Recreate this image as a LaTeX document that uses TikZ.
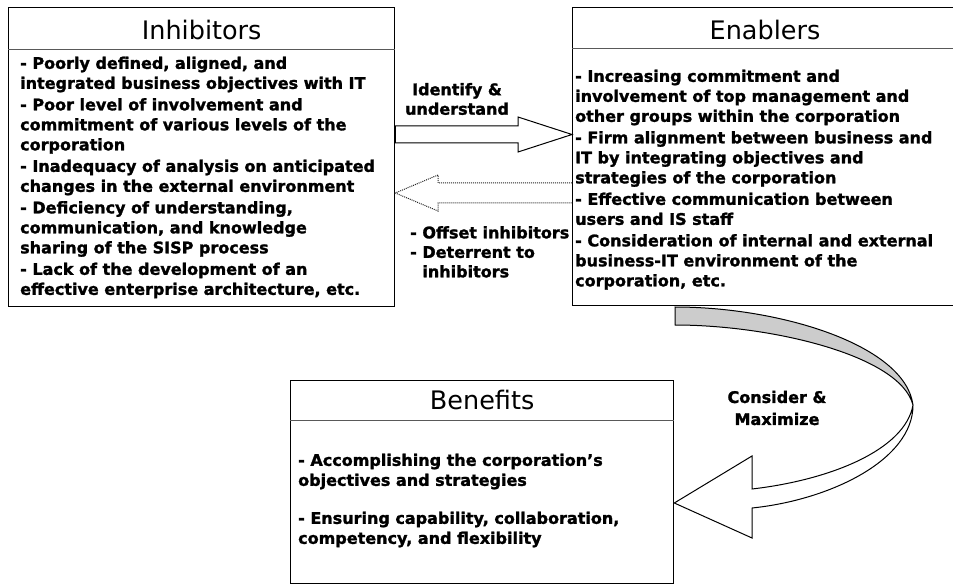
\documentclass[tikz,border=0pt]{standalone}
\usepackage{fontspec}
\setmainfont{DejaVu Sans}[BoldFeatures={FakeBold=1.5}]
\usepackage{tikz}
\usetikzlibrary{calc,positioning}

\begin{document}
\begin{tikzpicture}[
    x=1pt, y=-1pt,                       % pixel-like units, y downwards
    box/.style={
        draw,
        rectangle,
        line width=1.3pt,
        inner sep=0pt,
        anchor=north west
    },
    divider/.style={line width=0.6pt, black!65},
    head/.style={font=\fontsize{25.5}{30}\selectfont},
    item/.style={
        font=\bfseries\fontsize{16}{20}\selectfont,
        align=left,
        inner sep=0pt,
        anchor=north west
    },
    note/.style={font=\bfseries\fontsize{16}{19.5}\selectfont, inner sep=0pt},
    blockarrow/.style={draw, line width=1pt, fill=white},
    ribbon/.style={draw, line width=1pt}
]
\useasboundingbox (0,0) rectangle (953,585);

% the three boxes
\node[box, minimum width=386pt, minimum height=299pt] (inh) at (8,7) {};
\node[box, minimum width=383pt, minimum height=298pt] (ena) at (572,7) {};
\node[box, minimum width=383pt, minimum height=203pt] (ben) at (290,380) {};

\node[head] (inhtitle) at ([yshift=-22.5pt]inh.north) {Inhibitors};
\node[head] (enatitle) at (765,29.5) {Enablers};
\node[head] (bentitle) at ([yshift=-20pt]ben.north) {Benefits};

\draw[divider] ([yshift=-42pt]inh.north west) -- ([yshift=-42pt]inh.north east);
\draw[divider] ([yshift=-41pt]ena.north west) -- ([yshift=-41pt]ena.north east);
\draw[divider] ([yshift=-40pt]ben.north west) -- ([yshift=-40pt]ben.north east);

\node[item] (inhtext) at (20,56.5) {- Poorly defined, aligned, and\\
    integrated business objectives with IT\\[1.5pt]
    - Poor level of involvement and\\
    commitment of various levels of the\\
    corporation\\[1.5pt]
    - Inadequacy of analysis on anticipated\\
    changes in the external environment\\[1.5pt]
    - Deficiency of understanding,\\
    communication, and knowledge\\
    sharing of the SISP process\\[1.5pt]
    - Lack of the development of an\\
    effective enterprise architecture, etc.};

\node[item] (enatext) at (575,69.5) {- Increasing commitment and\\
    involvement of top management and\\
    other groups within the corporation\\[1.5pt]
    - Firm alignment between business and\\
    IT by integrating objectives and\\
    strategies of the corporation\\[1.5pt]
    - Effective communication between\\
    users and IS staff\\[1.5pt]
    - Consideration of internal and external\\
    business-IT environment of the\\
    corporation, etc.};

\node[item] (bentext) at (298,453.5) {- Accomplishing the corporation’s\\
    objectives and strategies\\[18pt]
    - Ensuring capability, collaboration,\\
    competency, and flexibility};

% inhibitors -> enablers
\draw[blockarrow] (inh.east |- 0,126) -- (518,126) -- (518,117) -- (ena.west |- 0,134.5)
    -- (518,152) -- (518,143) -- (inh.east |- 0,143) -- cycle;
\node[note, align=center] (identify) at (457,99) {Identify \&\\ understand};

% enablers -> inhibitors (dotted)
\draw[line width=1pt, densely dotted, black!85] (ena.west |- 0,183) -- (438,183) -- (438,175)
    -- (inh.east |- 0,193) -- (438,211) -- (438,203) -- (ena.west |- 0,203);
\node[note, align=left, anchor=north west] (offset) at (410,226)
    {- Offset inhibitors\\ - Deterrent to\\ \phantom{- }inhibitors};

% enablers -> benefits, twisted band
\coordinate (twist) at (913,405);
\draw[ribbon, fill=black!20] (675,307) .. controls (780,307) and (905,345) .. (twist)
    .. controls (900,355) and (770,325) .. (675,325) -- cycle;
\draw[ribbon, fill=white] (twist) .. controls (913,460) and (830,500) .. (752,508)
    -- (752,538) -- (ben.east |- 0,503) -- (752,456) -- (752,489)
    .. controls (830,480) and (905,450) .. (twist) -- cycle;
\node[note, align=center, font=\bfseries\fontsize{16}{22}\selectfont] (consider) at (777,408)
    {Consider \&\\ Maximize};

\end{tikzpicture}
\end{document}
